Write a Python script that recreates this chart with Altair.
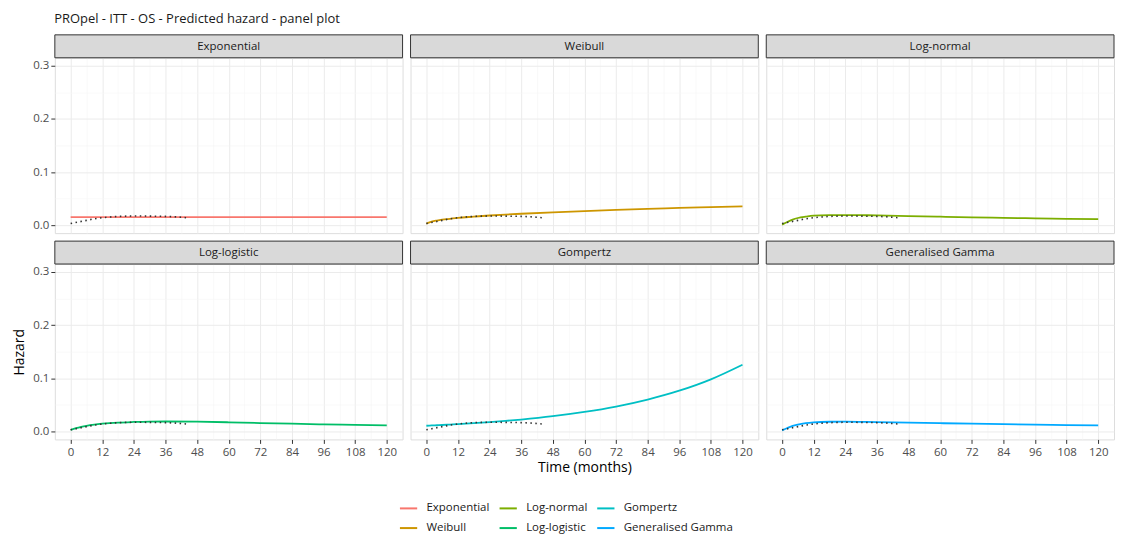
import altair as alt
import pandas as pd

# ---------------- data ----------------
MODELS = ["Exponential", "Weibull", "Log-normal", "Log-logistic", "Gompertz", "Generalised Gamma"]
COLORS = ["#F8766D", "#CD9600", "#7CAE00", "#00BE67", "#00BFC4", "#00A9FF"]

TIME = [0, 2, 4, 6, 9, 12, 18, 24, 30, 36, 48, 60, 72, 84, 96, 108, 120]
H_EXPONENTIAL = [0.0152] * 17
H_WEIBULL = [0.003, 0.0066, 0.0087, 0.0103, 0.012, 0.0137, 0.016, 0.0182, 0.020, 0.0215,
             0.0242, 0.0266, 0.0287, 0.0306, 0.0324, 0.034, 0.0355]
H_LOGNORMAL = [0.001, 0.006, 0.0105, 0.0135, 0.016, 0.0178, 0.0188, 0.019, 0.0188, 0.0183,
               0.0172, 0.016, 0.0148, 0.0138, 0.0128, 0.012, 0.0112]
H_LOGLOGISTIC = [0.003, 0.006, 0.0085, 0.0105, 0.0128, 0.0145, 0.0167, 0.0178, 0.0185, 0.0187,
                 0.0183, 0.0172, 0.0158, 0.0145, 0.0133, 0.0122, 0.0112]
H_GOMPERTZ = [0.0107, 0.0112, 0.0116, 0.0121, 0.0129, 0.0137, 0.0155, 0.0175, 0.0198, 0.0224,
              0.0286, 0.0366, 0.0468, 0.060, 0.0766, 0.098, 0.1255]
H_GENGAMMA = [0.002, 0.0065, 0.0105, 0.013, 0.0155, 0.017, 0.0182, 0.0183, 0.018, 0.0175,
              0.0165, 0.0155, 0.0145, 0.0136, 0.0128, 0.012, 0.0113]

OBS_TIME = [0, 3, 6, 9, 12, 15, 18, 21, 24, 27, 30, 33, 36, 39, 42, 44]
OBS_HAZARD = [0.003, 0.006, 0.009, 0.012, 0.014, 0.0155, 0.0165, 0.017, 0.0172, 0.0172,
              0.017, 0.0168, 0.0165, 0.016, 0.015, 0.014]

X_TICKS = list(range(0, 121, 6))
Y_TICKS = [0, 0.05, 0.1, 0.15, 0.2, 0.25, 0.3]

series = [H_EXPONENTIAL, H_WEIBULL, H_LOGNORMAL, H_LOGLOGISTIC, H_GOMPERTZ, H_GENGAMMA]
rows = []
for m, vals in zip(MODELS, series):
    for t, h in zip(TIME, vals):
        rows.append({"model": m, "t": t, "h": h})
fit_df = pd.DataFrame(rows)
obs_df = pd.DataFrame({"t": OBS_TIME, "h": OBS_HAZARD})

# legend order (column-major like ggplot, 2 rows x 3 cols)
LEG_ORDER = ["Exponential", "Log-normal", "Gompertz", "Weibull", "Log-logistic", "Generalised Gamma"]
LEG_COLORS = [COLORS[MODELS.index(m)] for m in LEG_ORDER]

# ---------------- layout ----------------
W, H, STRIP = 349, 176, 23
FONT = "Open Sans"
MAJX = "datum.value % 12 == 0"
MAJY = "round(datum.value * 100) % 10 == 0"

grid_x = dict(
    grid=True,
    gridColor={"condition": {"test": MAJX, "value": "#EBEBEB"}, "value": "#F5F5F5"},
    gridWidth={"condition": {"test": MAJX, "value": 1}, "value": 0.6},
)
grid_y = dict(
    grid=True,
    gridColor={"condition": {"test": MAJY, "value": "#EBEBEB"}, "value": "#F5F5F5"},
    gridWidth={"condition": {"test": MAJY, "value": 1}, "value": 0.6},
)


def x_axis(show, title=None):
    if show:
        kw = dict(values=X_TICKS, labelExpr=f"{MAJX} ? datum.label : ''",
                  tickOpacity={"condition": {"test": MAJX, "value": 1}, "value": 0},
                  ticks=True, tickSize=4, tickColor="#333333", labels=True,
                  labelColor="#4D4D4D", labelFontSize=11.5, labelFont=FONT, labelPadding=3,
                  labelOverlap=False, domain=False, **grid_x)
        if title:
            kw.update(title=title, titleFontSize=14, titleFont=FONT, titleColor="#000000",
                      titleFontWeight="normal", titlePadding=3)
        else:
            kw.update(title=None)
        return alt.Axis(**kw)
    return alt.Axis(values=X_TICKS, labels=False, ticks=False, domain=False, title=None, **grid_x)


def y_axis(show, title=None):
    if show:
        kw = dict(values=Y_TICKS,
                  labelExpr=f"{MAJY} ? format(datum.value, '.1f') : ''",
                  tickOpacity={"condition": {"test": MAJY, "value": 1}, "value": 0},
                  ticks=True, tickSize=4, tickColor="#333333", labels=True,
                  labelColor="#4D4D4D", labelFontSize=11.5, labelFont=FONT, labelPadding=2,
                  labelOverlap=False, domain=False, **grid_y)
        if title:
            kw.update(title=title, titleFontSize=14, titleFont=FONT, titleColor="#000000",
                      titleFontWeight="normal", titlePadding=6)
        else:
            kw.update(title=None)
        return alt.Axis(**kw)
    return alt.Axis(values=Y_TICKS, labels=False, ticks=False, domain=False, title=None, **grid_y)


color_scale = alt.Scale(domain=LEG_ORDER, range=LEG_COLORS)


def panel(i, m):
    row, col = divmod(i, 3)
    xa = x_axis(row == 1, "Time (months)" if (row == 1 and col == 1) else None)
    ya = y_axis(col == 0, "Hazard" if (row == 1 and col == 0) else None)
    xs = alt.Scale(domain=[-6, 126], nice=False, zero=False)
    ys = alt.Scale(domain=[-0.015, 0.315], nice=False, zero=False)

    lab = pd.DataFrame({"label": [m]})
    strip = alt.Chart(lab).mark_rect(fill="#D9D9D9", stroke="#333333", strokeWidth=1).encode(
        x=alt.value(0), x2=alt.value(W), y=alt.value(-STRIP), y2=alt.value(0))
    strip_txt = alt.Chart(lab).mark_text(fontSize=11.5, font=FONT, color="#1A1A1A",
                                         baseline="middle", align="center").encode(
        x=alt.value(W / 2), y=alt.value(-STRIP / 2 + 0.5), text="label:N")

    fit = alt.Chart(fit_df).transform_filter(alt.datum.model == m).mark_line(
        strokeWidth=1.8, interpolate="monotone").encode(
        x=alt.X("t:Q", scale=xs, axis=xa),
        y=alt.Y("h:Q", scale=ys, axis=ya),
        color=alt.Color("model:N", scale=color_scale,
                        legend=alt.Legend(title=None, orient="none", direction="horizontal",
                                          columns=3, symbolType="stroke", symbolStrokeWidth=2,
                                          symbolSize=300, labelFontSize=11.5, labelFont=FONT,
                                          labelColor="#1A1A1A", labelOffset=8,
                                          columnPadding=5, rowPadding=4,
                                          legendX=345, legendY=442)),
    )
    obs = alt.Chart(obs_df).mark_line(color="#333333", strokeWidth=1.6,
                                      strokeDash=[1.5, 3.5]).encode(
        x=alt.X("t:Q", scale=xs, axis=xa),
        y=alt.Y("h:Q", scale=ys, axis=ya),
    )
    return alt.layer(strip, strip_txt, fit, obs).properties(width=W, height=H)


panels = [panel(i, m) for i, m in enumerate(MODELS)]
row1 = alt.hconcat(*panels[:3], spacing=6)
row2 = alt.hconcat(*panels[3:], spacing=6)

chart = alt.vconcat(row1, row2, spacing=6).properties(
    title=alt.TitleParams("PROpel - ITT - OS - Predicted hazard - panel plot", anchor="start",
                          fontSize=13, fontWeight="normal", font=FONT, color="#1A1A1A",
                          dx=42, offset=8),
    padding={"left": 4, "top": 4, "right": 0, "bottom": 2},
).configure_view(stroke="#333333", strokeWidth=1).configure(background="white")

chart.save("out.html", embed_options={"renderer": "svg", "actions": False})
